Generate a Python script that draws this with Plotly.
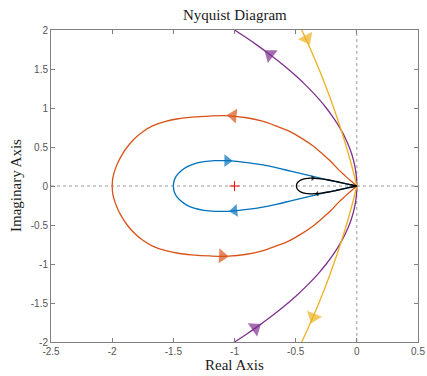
import plotly.graph_objects as go

# Upper halves (Im >= 0), ordered from the outer end to the origin
blue_x = [-1.5, -1.493, -1.475, -1.44, -1.39, -1.33, -1.25, -1.16, -1.07, -0.98, -0.88,
          -0.78, -0.66, -0.54, -0.42, -0.3, -0.18, -0.08, 0.0]
blue_y = [0.0, 0.07, 0.13, 0.19, 0.245, 0.285, 0.312, 0.325, 0.325, 0.315, 0.297,
          0.273, 0.235, 0.19, 0.145, 0.1, 0.058, 0.025, 0.0]

orange_x = [-2.0, -1.995, -1.978, -1.953, -1.92, -1.877, -1.822, -1.755, -1.67, -1.57,
            -1.46, -1.35, -1.2, -1.05, -0.9, -0.78, -0.66, -0.55, -0.45, -0.36, -0.28,
            -0.21, -0.15, -0.095, -0.045, 0.0]
orange_y = [0.0, 0.1, 0.2, 0.3, 0.4, 0.5, 0.6, 0.69, 0.77, 0.825,
            0.862, 0.882, 0.897, 0.9, 0.875, 0.835, 0.77, 0.7, 0.61, 0.515, 0.41,
            0.31, 0.21, 0.13, 0.06, 0.0]

purple_x = [-1.1025, -1.0, -0.9025, -0.81, -0.7225, -0.64, -0.5625, -0.49, -0.4225, -0.36,
            -0.3025, -0.25, -0.2025, -0.16, -0.1225, -0.09, -0.0625, -0.04, -0.0225,
            -0.01, -0.0025, 0.0]
purple_y = [2.1, 2.0, 1.9, 1.8, 1.7, 1.6, 1.5, 1.4, 1.3, 1.2,
            1.1, 1.0, 0.9, 0.8, 0.7, 0.6, 0.5, 0.4, 0.3,
            0.2, 0.1, 0.0]

yellow_x = [-0.495, -0.45, -0.378, -0.31, -0.247, -0.189, -0.135, -0.0855, -0.04, 0.0]
yellow_y = [2.15, 2.0, 1.75, 1.5, 1.25, 1.0, 0.75, 0.5, 0.25, 0.0]

black_x = [-0.494, -0.49, -0.478, -0.455, -0.42, -0.38, -0.34, -0.29, -0.23, -0.17,
           -0.11, -0.05, 0.0]
black_y = [0.0, 0.03, 0.055, 0.078, 0.094, 0.1, 0.099, 0.091, 0.077, 0.058,
           0.038, 0.016, 0.0]

# Arrow marks: (tail, head) pairs
arrows = {
    "blue":   [((-1.12, 0.325), (-1.06, 0.324)), ((-0.94, -0.307), (-1.0, -0.317))],
    "orange": [((-0.95, 0.89), (-1.01, 0.9)), ((-1.16, -0.893), (-1.10, -0.898))],
    "purple": [((-0.66, 1.625), (-0.71, 1.685)), ((-0.88, -1.875), (-0.83, -1.82))],
    "yellow": [((-0.43, 1.95), (-0.41, 1.89)), ((-0.335, -1.6), (-0.355, -1.68))],
    "black":  [((-0.40, 0.099), (-0.36, 0.1)), ((-0.29, -0.092), (-0.325, -0.098))],
}

colors = {"blue": "#0072BD", "orange": "#D95319", "purple": "#7E2F8E",
          "yellow": "#EDB120", "black": "#000000"}
curves = {"blue": (blue_x, blue_y), "orange": (orange_x, orange_y),
          "purple": (purple_x, purple_y), "yellow": (yellow_x, yellow_y),
          "black": (black_x, black_y)}
arrow_size = {"blue": 11, "orange": 13, "purple": 14, "yellow": 14, "black": 5}

fig = go.Figure()

# dotted zero lines
fig.add_shape(type="line", x0=-2.5, x1=0.5, y0=0, y1=0, xref="x", yref="y",
              line=dict(color="#999999", width=1, dash="dot"), layer="below")
fig.add_shape(type="line", x0=0, x1=0, y0=-2, y1=2, xref="x", yref="y",
              line=dict(color="#999999", width=1, dash="dot"), layer="below")

for name in ["blue", "orange", "purple", "yellow", "black"]:
    ux, uy = curves[name]
    c = colors[name]
    for sgn in (1, -1):
        fig.add_trace(go.Scatter(x=ux, y=[sgn * v for v in uy], mode="lines",
                                 line=dict(color=c, width=1.3, shape="spline", smoothing=1.0),
                                 hoverinfo="skip"))
    for tail, head in arrows[name]:
        fig.add_trace(go.Scatter(
            x=[tail[0], head[0]], y=[tail[1], head[1]], mode="markers",
            marker=dict(symbol="triangle-up", size=[0, arrow_size[name]], color=c,
                        angleref="previous", line=dict(width=0)),
            hoverinfo="skip"))

# critical point
fig.add_trace(go.Scatter(x=[-1], y=[0], mode="markers",
                         marker=dict(symbol="cross-thin", size=7,
                                     line=dict(color="#FF0000", width=1)),
                         hoverinfo="skip"))

axis_common = dict(showline=True, linecolor="#808080", linewidth=1, mirror="ticks",
                   ticks="inside", ticklen=4, tickcolor="#808080", showgrid=False,
                   zeroline=False, automargin=False,
                   tickfont=dict(family="Liberation Sans", size=10, color="#555555"))

fig.update_xaxes(range=[-2.5, 0.5], tickvals=[-2.5, -2, -1.5, -1, -0.5, 0, 0.5],
                 ticktext=["-2.5", "-2", "-1.5", "-1", "-0.5", "0", "0.5"], **axis_common)
fig.update_yaxes(range=[-2, 2], tickvals=[-2, -1.5, -1, -0.5, 0, 0.5, 1, 1.5, 2],
                 ticktext=["-2", "-1.5", "-1", "-0.5", "0", "0.5", "1", "1.5", "2"], **axis_common)

serif = dict(family="Liberation Serif", size=15, color="#1a1a1a")
fig.update_layout(
    width=427, height=376,
    margin=dict(l=51, r=9, t=30, b=34, autoexpand=False),
    plot_bgcolor="white", paper_bgcolor="white",
    showlegend=False,
    annotations=[
        dict(text="Nyquist Diagram", x=0.5, y=1, xref="paper", yref="paper",
             xanchor="center", yanchor="bottom", yshift=5, showarrow=False, font=serif),
        dict(text="Real Axis", x=0.5, y=0, xref="paper", yref="paper",
             xanchor="center", yanchor="top", yshift=-13, showarrow=False, font=serif),
        dict(text="Imaginary Axis", x=0, y=0.5, xref="paper", yref="paper",
             xanchor="right", yanchor="middle", xshift=-25, textangle=-90,
             showarrow=False, font=serif),
    ],
)

# remove the default page margin so the 427x376 figure fills the window exactly
fig.write_html("out.html", config={"displayModeBar": False},
               post_script="document.body.style.margin='0';")
